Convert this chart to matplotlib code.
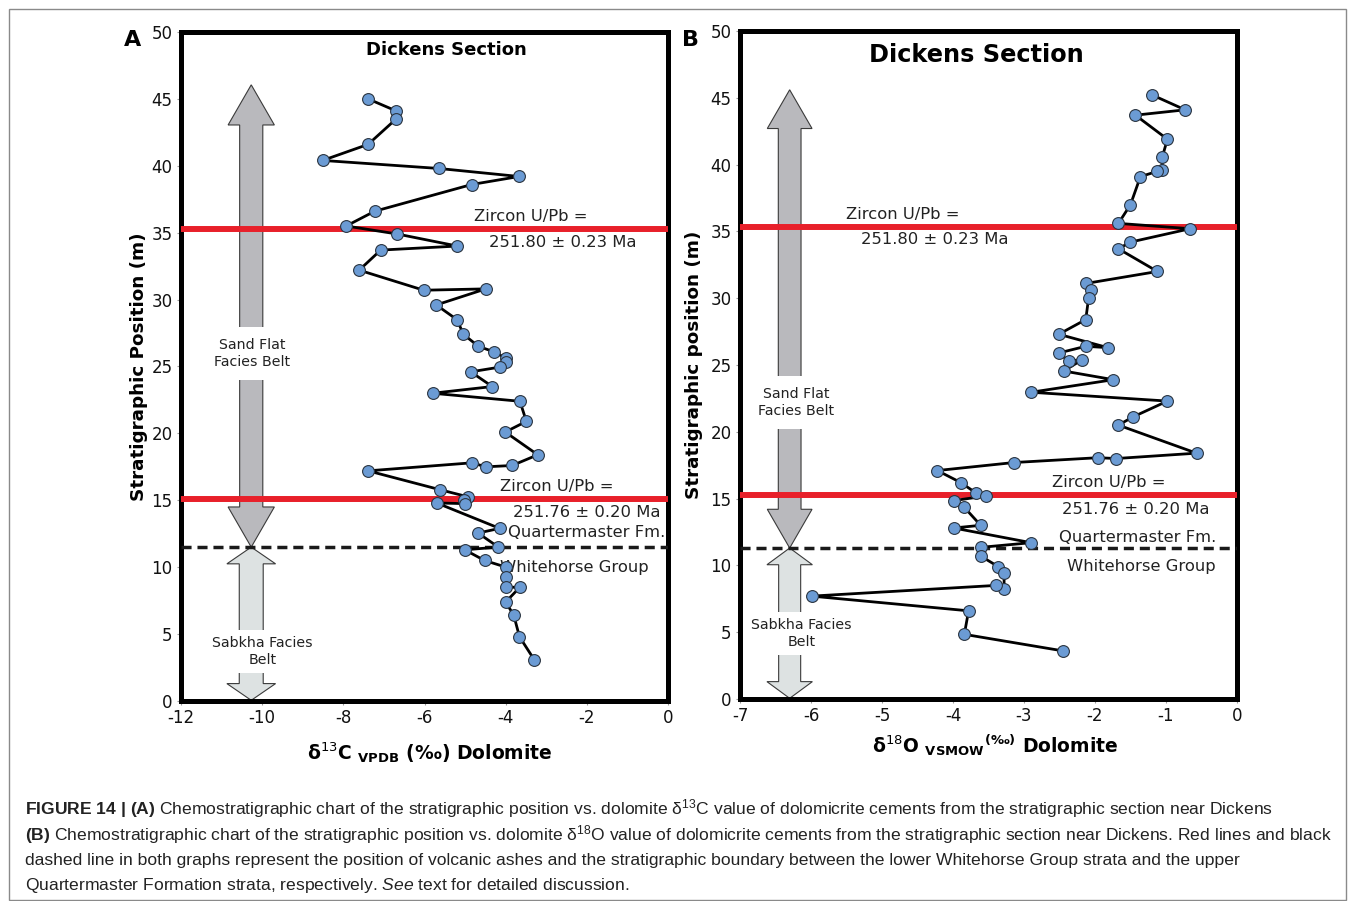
import matplotlib
matplotlib.use('Agg')
import matplotlib.pyplot as plt
from matplotlib.patches import FancyArrow, Rectangle

plt.rcParams['font.family'] = ['DejaVu Sans']
plt.rcParams['axes.unicode_minus'] = False
plt.rcParams['mathtext.fontset'] = 'custom'
plt.rcParams['mathtext.rm'] = 'Liberation Sans'
plt.rcParams['mathtext.bf'] = 'Liberation Sans:bold'
plt.rcParams['mathtext.it'] = 'Liberation Sans:italic'

# Panel A: delta 13C (VPDB) vs stratigraphic position (m), in drawing order
c13 = [-7.39, -6.70, -6.70, -7.39, -8.51, -5.65, -3.67, -4.84, -7.23, -7.93,
       -6.67, -5.19, -7.08, -7.61, -6.02, -4.49, -5.71, -5.20, -5.04, -4.67,
       -4.29, -3.98, -4.00, -4.15, -4.86, -4.33, -5.80, -3.65, -3.49, -4.01,
       -3.21, -3.84, -4.49, -4.83, -7.39, -5.63, -4.92, -5.02, -5.00, -5.70,
       -4.15, -4.68, -4.18, -5.01, -4.52, -3.99, -3.98, -3.99, -3.65, -4.00,
       -3.80, -3.66, -3.30]
pos_a = [45.0, 44.1, 43.5, 41.6, 40.4, 39.8, 39.2, 38.6, 36.6, 35.5,
         34.9, 34.0, 33.7, 32.2, 30.7, 30.8, 29.6, 28.5, 27.4, 26.5,
         26.1, 25.6, 25.3, 24.95, 24.6, 23.5, 23.0, 22.4, 20.9, 20.1,
         18.4, 17.6, 17.5, 17.8, 17.2, 15.8, 15.25, 15.05, 14.75, 14.8,
         12.9, 12.55, 11.5, 11.3, 10.5, 10.0, 9.3, 8.5, 8.5, 7.4,
         6.4, 4.8, 3.1]

# Panel B: delta 18O (VSMOW) vs stratigraphic position (m)
o18 = [-1.19, -0.73, -1.43, -0.98, -1.05, -1.06, -1.12, -1.36, -1.50, -1.67,
       -0.66, -1.50, -1.67, -1.12, -2.13, -2.06, -2.09, -2.13, -2.51, -1.82,
       -2.13, -2.51, -2.37, -2.18, -2.44, -1.74, -2.90, -0.98, -1.47, -1.67,
       -0.57, -1.70, -1.96, -3.14, -4.22, -3.89, -3.67, -3.53, -3.99, -3.85,
       -3.61, -3.99, -2.90, -3.61, -3.61, -3.36, -3.28, -3.28, -3.40, -5.99,
       -3.78, -3.84, -2.45]
pos_b = [45.2, 44.1, 43.7, 41.9, 40.6, 39.6, 39.5, 39.1, 37.0, 35.6,
         35.2, 34.2, 33.7, 32.0, 31.1, 30.6, 30.0, 28.4, 27.3, 26.3,
         26.4, 25.9, 25.3, 25.4, 24.55, 23.9, 22.96, 22.3, 21.1, 20.5,
         18.4, 18.0, 18.06, 17.7, 17.1, 16.2, 15.4, 15.2, 14.85, 14.4,
         13.0, 12.8, 11.7, 11.35, 10.7, 9.9, 9.4, 8.2, 8.5, 7.7,
         6.6, 4.84, 3.6]

ash_a = [35.25, 15.1]
ash_b = [35.3, 15.27]
boundary_a = 11.5
boundary_b = 11.3

notes_a = [("Zircon U/Pb =", -4.77, 36.2), ("251.80 ± 0.23 Ma", -4.42, 34.3),
           ("Zircon U/Pb =", -4.15, 16.0), ("251.76 ± 0.20 Ma", -3.83, 14.1),
           ("Quartermaster Fm.", -3.95, 12.6), ("Whitehorse Group", -4.15, 10.0)]
notes_b = [("Zircon U/Pb =", -5.50, 36.3), ("251.80 ± 0.23 Ma", -5.30, 34.4),
           ("Zircon U/Pb =", -2.60, 16.2), ("251.76 ± 0.20 Ma", -2.47, 14.2),
           ("Quartermaster Fm.", -2.50, 12.1), ("Whitehorse Group", -2.40, 9.9)]

fig = plt.figure(figsize=(13.55, 9.01), dpi=100)
axA = fig.add_axes([0.1336, 0.222, 0.3594, 0.7425])
axB = fig.add_axes([0.5461, 0.2242, 0.3668, 0.7414])


def facies_arrow(ax, xc, y_top, y_bot, y_split, w, hw, hl, color):
    # two single-headed arrows meeting under the white label box
    for tip in (y_top, y_bot):
        ax.add_patch(FancyArrow(xc, y_split, 0, tip - y_split, width=w,
                                head_width=hw, head_length=hl,
                                length_includes_head=True, fc=color,
                                ec='#3a3a3a', lw=0.8, zorder=2))


def setup(ax, x, y, ash, bnd, notes, xmin, xticks):
    ax.plot(x, y, '-', color='black', lw=2.0, zorder=5)
    ax.plot(x, y, 'o', ms=8.5, mfc='#6b9bd4', mec='#2a3440', mew=0.8, zorder=6)
    for a in ash:
        ax.axhline(a, color='#e8202a', lw=4.3, zorder=4)
    ax.axhline(bnd, color='#1a1a1a', lw=2.5, ls=(0, (2.9, 1.7)), zorder=4)
    for s, tx, ty in notes:
        ax.text(tx, ty, s, fontsize=11.8, color='#222222', ha='left', va='center', zorder=3)
    ax.set_xlim(xmin, 0)
    ax.set_ylim(0, 50)
    ax.set_xticks(xticks)
    ax.set_yticks(range(0, 51, 5))
    for sp in ax.spines.values():
        sp.set_linewidth(3.6)
    ax.tick_params(length=3, width=0.8, color='#999999', labelsize=12, pad=3,
                   labelcolor='#111111')


setup(axA, c13, pos_a, ash_a, boundary_a, notes_a, -12, range(-12, 1, 2))
setup(axB, o18, pos_b, ash_b, boundary_b, notes_b, -7, range(-7, 1, 1))

# facies belt arrows
facies_arrow(axA, -10.27, 46.05, boundary_a, 25.9, 0.57, 1.14, 3.0, '#b9b9bd')
facies_arrow(axA, -10.27, boundary_a, 0.05, 3.7, 0.59, 1.2, 1.25, '#dde2e2')
facies_arrow(axB, -6.30, 45.6, boundary_b, 22.2, 0.32, 0.63, 2.9, '#b9b9bd')
facies_arrow(axB, -6.30, boundary_b, 0.05, 4.9, 0.31, 0.64, 1.25, '#dde2e2')

box = dict(facecolor='white', edgecolor='none', pad=8)
axA.text(-10.25, 25.97, "Sand Flat\nFacies Belt", fontsize=10.2, ha='center', va='center',
         linespacing=1.3, color='#222222', bbox=box, zorder=3)
axA.text(-10.0, 3.7, "Sabkha Facies\nBelt", fontsize=10.2, ha='center', va='center',
         linespacing=1.3, color='#222222', bbox=dict(facecolor='white', edgecolor='none', pad=4), zorder=3)
axB.text(-6.21, 22.2, "Sand Flat\nFacies Belt", fontsize=10.2, ha='center', va='center',
         linespacing=1.3, color='#222222', bbox=box, zorder=3)
axB.text(-6.13, 4.9, "Sabkha Facies\nBelt", fontsize=10.2, ha='center', va='center',
         linespacing=1.3, color='#222222', bbox=dict(facecolor='white', edgecolor='none', pad=4), zorder=3)

# titles and labels
axA.text(0.544, 0.973, "Dickens Section", transform=axA.transAxes, fontsize=13,
         fontweight='bold', ha='center', va='center')
axB.text(0.475, 0.964, "Dickens Section", transform=axB.transAxes, fontsize=17.3,
         fontweight='bold', ha='center', va='center')

axA.set_ylabel("Stratigraphic Position (m)", fontsize=13.2, fontweight='bold')
axA.yaxis.set_label_coords(-0.0674, 0.5)
axB.set_ylabel("Stratigraphic position (m)", fontsize=13.2, fontweight='bold')
axB.yaxis.set_label_coords(-0.075, 0.5)

axA.set_xlabel(r"δ$^{13}$C $_{\mathbf{VPDB}}$ (‰) Dolomite", fontsize=13.5,
               fontweight='bold', math_fontfamily='dejavusans')
axA.xaxis.set_label_coords(0.511, -0.058)
axB.set_xlabel(r"δ$^{18}$O $_{\mathbf{VSMOW}}$$^{\mathbf{(‰)}}$ Dolomite", fontsize=13.5,
               fontweight='bold', math_fontfamily='dejavusans')
axB.xaxis.set_label_coords(0.513, -0.0495)

fig.text(133 / 1355, 1 - 40 / 901, "A", fontsize=16, fontweight='bold', ha='center', va='center')
fig.text(690 / 1355, 1 - 40 / 901, "B", fontsize=16, fontweight='bold', ha='center', va='center')

# outer frame
fig.add_artist(Rectangle((9 / 1355, 1 / 901), 1337 / 1355, 891 / 901, transform=fig.transFigure,
                         fill=False, ec='#8a8a8a', lw=1.0))

caption = [
    r"$\mathbf{FIGURE\ 14\ |\ (A)}$ Chemostratigraphic chart of the stratigraphic position vs. dolomite δ$^{13}$C value of dolomicrite cements from the stratigraphic section near Dickens",
    r"$\mathbf{(B)}$ Chemostratigraphic chart of the stratigraphic position vs. dolomite δ$^{18}$O value of dolomicrite cements from the stratigraphic section near Dickens. Red lines and black",
    "dashed line in both graphs represent the position of volcanic ashes and the stratigraphic boundary between the lower Whitehorse Group strata and the upper",
    r"Quartermaster Formation strata, respectively. $\mathit{See}$ text for detailed discussion.",
]
for i, line in enumerate(caption):
    fig.text(25 / 1355, 1 - (809 + 25.5 * i) / 901, line, fontsize=12.6,
             family=['Liberation Sans', 'DejaVu Sans'], color='#222222', ha='left', va='center')

fig.savefig('out.png', dpi=100)
